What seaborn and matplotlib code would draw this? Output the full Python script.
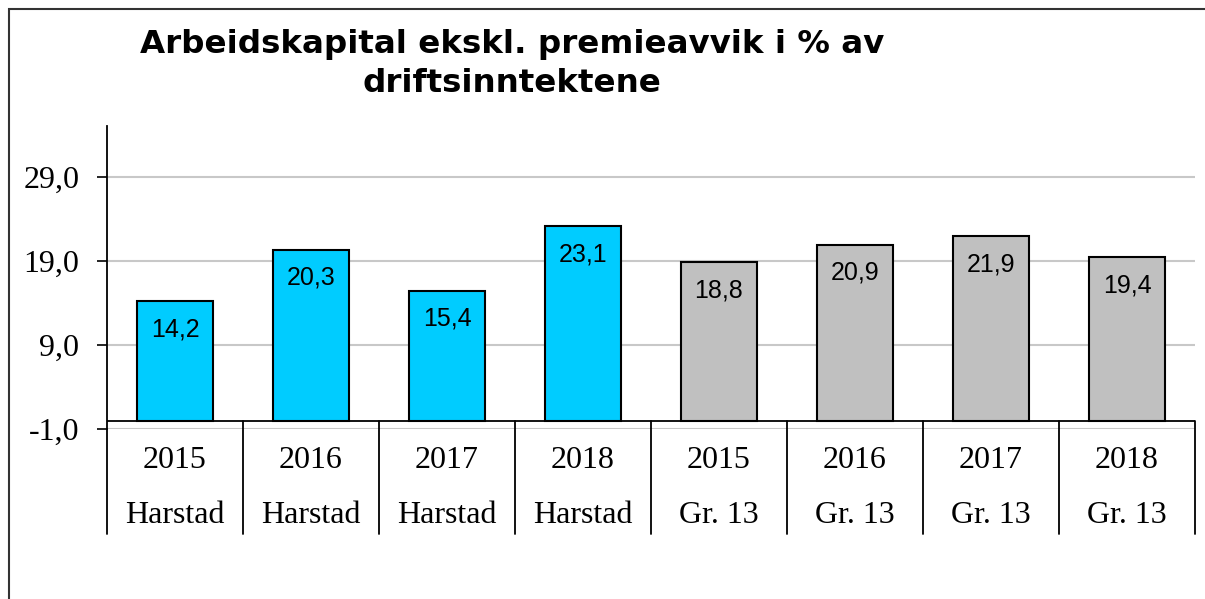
import matplotlib
matplotlib.use("Agg")
import matplotlib.pyplot as plt
import seaborn as sns
import pandas as pd
from matplotlib.patches import Rectangle
from matplotlib.lines import Line2D

years = ["2015", "2016", "2017", "2018", "2015", "2016", "2017", "2018"]
groups = ["Harstad", "Harstad", "Harstad", "Harstad", "Gr. 13", "Gr. 13", "Gr. 13", "Gr. 13"]
values = [14.2, 20.3, 15.4, 23.1, 18.8, 20.9, 21.9, 19.4]
yticks = [-1.0, 9.0, 19.0, 29.0]
title = "Arbeidskapital ekskl. premieavvik i % av\ndriftsinntektene"

color_map = {"Harstad": "#00CCFF", "Gr. 13": "#C0C0C0"}

df = pd.DataFrame({
    "key": [f"{y}\n{g}" for y, g in zip(years, groups)],
    "year": years,
    "group": groups,
    "value": values,
})
palette = {k: color_map[g] for k, g in zip(df["key"], df["group"])}

sns.set_theme(style="white")
plt.rcParams["font.family"] = ["DejaVu Sans"]
plt.rcParams["text.color"] = "black"

W, H = 1205, 599
fig = plt.figure(figsize=(W / 100, H / 100), dpi=100)
ax = fig.add_axes([107 / W, 1 - 429 / H, (1195 - 107) / W, (429 - 126) / H])

sns.barplot(data=df, x="key", y="value", hue="key", palette=palette, legend=False,
            width=0.56, edgecolor="black", linewidth=1.5, saturation=1, ax=ax, zorder=3)

ax.set_xlim(-0.5, 7.5)
ax.set_ylim(-1, 35)
ax.set_yticks(yticks)
ax.set_yticklabels([f"{t:.1f}".replace(".", ",") for t in yticks],
                   fontfamily="Liberation Serif", fontsize=23)
ax.tick_params(axis="y", length=7, width=1.2, color="black", labelcolor="black",
               pad=13, left=True)
ax.set_xticks([])
ax.set_xlabel("")
ax.set_ylabel("")
for t in yticks:
    ax.axhline(t, color="#C8C8C8", lw=1.5, zorder=1)
ax.axhline(0, color="black", lw=1.3, zorder=4)

for s in ["top", "right", "bottom"]:
    ax.spines[s].set_visible(False)
ax.spines["left"].set_color("black")
ax.spines["left"].set_linewidth(1.3)

# value labels
for i, v in enumerate(values):
    ax.annotate(f"{v:.1f}".replace(".", ","), xy=(i, v), xytext=(0, -28),
                textcoords="offset pixels", ha="center", va="center",
                fontfamily="Liberation Sans", fontsize=18, color="black", zorder=5)

# category table
tr = ax.get_xaxis_transform()
for i, (y, g) in enumerate(zip(years, groups)):
    ax.text(i, -0.104, y, transform=tr, ha="center", va="center",
            fontfamily="Liberation Serif", fontsize=23, color="black")
    ax.text(i, -0.287, g, transform=tr, ha="center", va="center",
            fontfamily="Liberation Serif", fontsize=23, color="black")
y0 = (0 - (-1)) / 36
for xb in [-0.5 + k for k in range(9)]:
    ax.add_line(Line2D([xb, xb], [y0 if xb > -0.5 else 0, -0.345], transform=tr,
                       color="black", lw=1.3, clip_on=False))

# title
fig.text(512 / W, 1 - 64 / H, title, ha="center", va="center", fontsize=23.4,
         fontweight="bold", fontfamily="DejaVu Sans", linespacing=1.3, color="black")

# figure border
fig.patches.append(Rectangle((8.5 / W, -0.05), 1.1, 1 - 8.5 / H + 0.05,
                             transform=fig.transFigure, fill=False,
                             edgecolor="#333333", lw=1.5))

fig.savefig("out.png", dpi=100)
